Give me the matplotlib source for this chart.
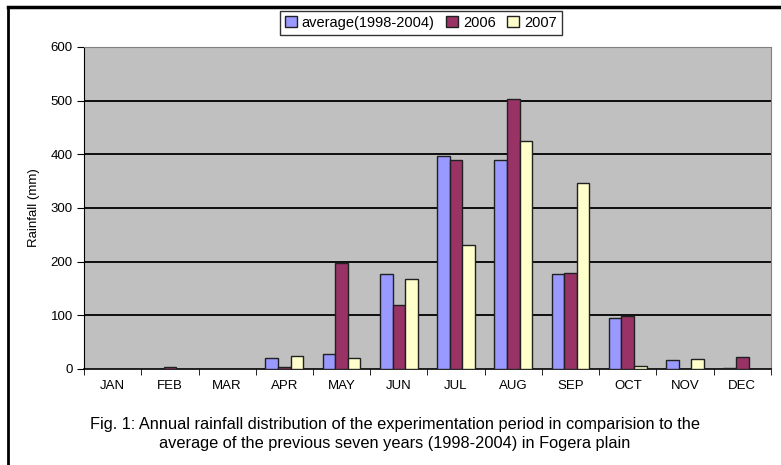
import matplotlib
matplotlib.use("Agg")
import matplotlib.pyplot as plt
import numpy as np
from matplotlib.lines import Line2D

months = ["JAN", "FEB", "MAR", "APR", "MAY", "JUN", "JUL", "AUG", "SEP", "OCT", "NOV", "DEC"]
series_names = ["average(1998-2004)", "2006", "2007"]
avg = [0, 0, 0, 21, 28, 177, 397, 389, 177, 95, 16, 2]
y2006 = [0, 4, 0, 4, 198, 120, 389, 503, 179, 99, 0, 23]
y2007 = [0, 0, 0, 24, 20, 167, 231, 425, 346, 6, 18, 0]
yticks = [0, 100, 200, 300, 400, 500, 600]
caption = ("Fig. 1: Annual rainfall distribution of the experimentation period in comparision to the\n"
           "average of the previous seven years (1998-2004) in Fogera plain")

colors = ["#9999FF", "#993366", "#FFFFCC"]
fam = ["Liberation Sans", "DejaVu Sans"]
plt.rcParams["font.family"] = fam

fig = plt.figure(figsize=(7.81, 4.65), dpi=100)
ax = fig.add_axes([0.1076, 0.2065, 0.8794, 0.6925])
ax.set_facecolor("#C0C0C0")

x = np.arange(len(months))
w = 0.22
for i, (vals, c) in enumerate(zip([avg, y2006, y2007], colors)):
    ax.bar(x + (i - 1) * w, vals, w, color=c, edgecolor="#202020", linewidth=1.0,
           label=series_names[i], zorder=3)

ax.set_ylim(0, 600)
ax.set_xlim(-0.5, 11.5)
ax.set_yticks(yticks)
ax.set_yticklabels([str(v) for v in yticks], fontsize=9.5)
for v in yticks[1:-1]:
    ax.axhline(v, color="black", linewidth=1.3, zorder=2)
ax.set_xticks(x)
ax.set_xticklabels(months, fontsize=9.5)
ax.tick_params(axis="x", length=0, pad=8)
ax.set_xticks(np.arange(-0.5, 12, 1), minor=True)
ax.tick_params(axis="x", which="minor", length=4, direction="out", color="black")
ax.tick_params(axis="y", length=5, direction="out", color="black", pad=3)
ax.spines["top"].set_color("#808080")
ax.spines["right"].set_color("#808080")
ax.spines["left"].set_color("black")
ax.spines["bottom"].set_color("black")
ax.spines["bottom"].set_linewidth(1.2)
ax.set_ylabel("Rainfall (mm)", fontsize=9.5, labelpad=8)

handles = [plt.Rectangle((0, 0), 1, 1, facecolor=c, edgecolor="#202020") for c in colors]
leg = fig.legend(handles, series_names, loc="center", bbox_to_anchor=(0.539, 0.951),
                 ncol=3, fontsize=10.5, frameon=True, fancybox=False, edgecolor="black",
                 handlelength=0.8, handleheight=0.8, handletextpad=0.35, columnspacing=0.8,
                 borderpad=0.35)
leg.get_frame().set_linewidth(1.0)

fig.text(0.506, 0.03, caption, ha="center", va="bottom", fontsize=11.8, linespacing=1.35)

# outer frame lines (top and left)
fig.add_artist(Line2D([0.0102, 1.0], [0.985, 0.985], color="black", linewidth=2.5, transform=fig.transFigure))
fig.add_artist(Line2D([0.0102, 0.0102], [0.0, 0.985], color="black", linewidth=2.0, transform=fig.transFigure))

fig.savefig("out.png", dpi=100)
